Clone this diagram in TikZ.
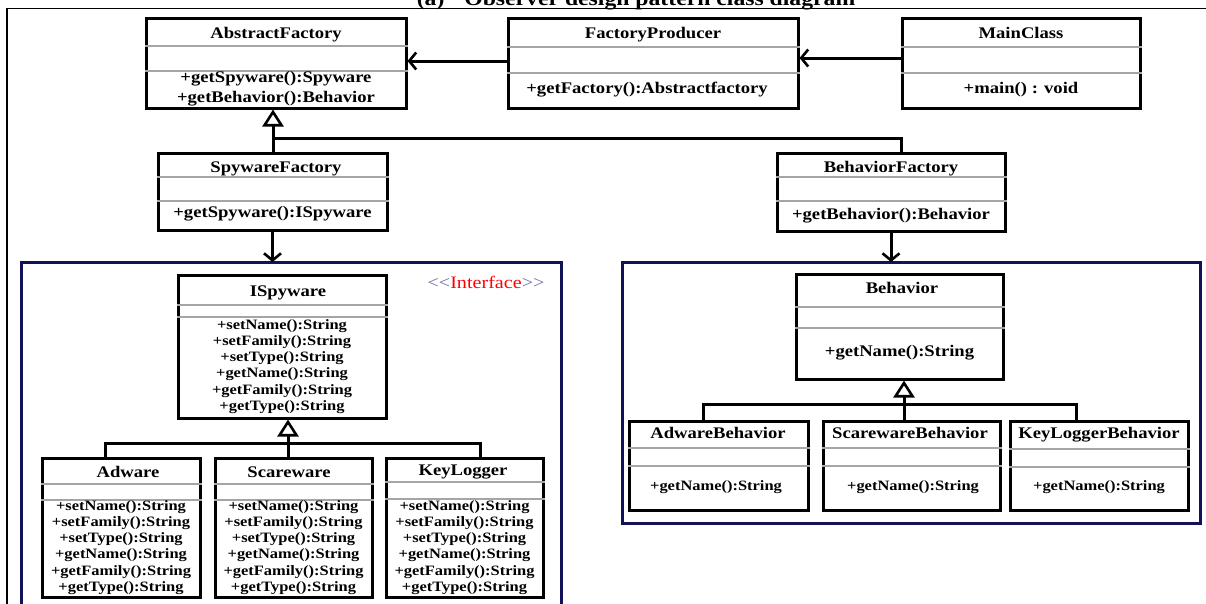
\documentclass[tikz,border=0pt]{standalone}
\usepackage{fontspec}
\setmainfont{Liberation Serif}[FakeStretch=1.15]
\usetikzlibrary{arrows.meta}
\definecolor{panecol}{RGB}{18,18,88}
\definecolor{sepcol}{RGB}{165,165,165}
\definecolor{tagcol}{RGB}{105,105,170}
\begin{document}
\begin{tikzpicture}[x=1pt,y=-1pt,
  cls/.style={draw=black, line width=3pt, fill=white, inner sep=0pt},
  sepline/.style={draw=sepcol, line width=1.3pt},
  nm/.style={font=\bfseries\fontsize{16.2}{18}\selectfont, inner sep=0pt, text height=11pt, text depth=3pt},
  mtbig/.style={font=\bfseries\fontsize{16.2}{20}\selectfont, inner sep=0pt, align=center},
  mtsmall/.style={font=\bfseries\fontsize{14.3}{16.2}\selectfont, inner sep=0pt, align=center},
  pane/.style={draw=panecol, line width=3pt},
  conn/.style={line width=3pt, line join=miter},
  assoc/.style={conn, -{Straight Barb[length=7pt,width=17pt,line width=2.6pt]}},
  inh/.style={conn, -{Triangle[length=17pt,width=21pt,fill=white,line width=2.6pt]}},
]
\useasboundingbox (0,0) rectangle (1206,603);
\clip (0,0) rectangle (1206,603);

% caption, cut by the top of the page
\node[font=\bfseries\fontsize{20.6}{24}\selectfont, inner sep=0pt, anchor=base] (caption) at (636,5)
  {(a)\hspace{20pt}Observer design pattern class diagram};
\draw[line width=1.8pt] (7,620) -- (7,8.5) -- (1215,8.5);

% ---------- top row ----------
\node[cls, minimum width=260pt, minimum height=90pt] (af) at (276,63) {};
\draw[sepline] (af.west |- 0,46) -- (af.east |- 0,46);
\draw[sepline] (af.west |- 0,71) -- (af.east |- 0,71);
\node[nm] (af-t) at (276,34) {AbstractFactory};
\node[mtbig] (af-m) at (276,89) {+getSpyware():Spyware\\+getBehavior():Behavior};

\node[cls, minimum width=290pt, minimum height=90pt] (fp) at (653,63) {};
\draw[sepline] (fp.west |- 0,47) -- (fp.east |- 0,47);
\draw[sepline] (fp.west |- 0,73) -- (fp.east |- 0,73);
\node[nm] (fp-t) at (653,34) {FactoryProducer};
\node[mtbig] (fp-m) at (647,90) {+getFactory():Abstractfactory};

\node[cls, minimum width=238pt, minimum height=90pt] (mc) at (1021,63) {};
\draw[sepline] (mc.west |- 0,47) -- (mc.east |- 0,47);
\draw[sepline] (mc.west |- 0,73) -- (mc.east |- 0,73);
\node[nm] (mc-t) at (1021,34) {MainClass};
\node[mtbig] (mc-m) at (1021,90) {+main() : void};

\draw[assoc] (fp.west |- 0,61) -- (af.east |- 0,61);
\draw[assoc] (mc.west |- 0,58) -- (fp.east |- 0,58);

% ---------- factories ----------
\node[cls, minimum width=229pt, minimum height=77pt] (sf) at (272.5,191.5) {};
\draw[sepline] (sf.west |- 0,177) -- (sf.east |- 0,177);
\draw[sepline] (sf.west |- 0,201) -- (sf.east |- 0,201);
\node[nm] (sf-t) at (276,168) {SpywareFactory};
\node[mtbig] (sf-m) at (272.5,214) {+getSpyware():ISpyware};

\node[cls, minimum width=228pt, minimum height=78pt] (bf) at (891,192) {};
\draw[sepline] (bf.west |- 0,177) -- (bf.east |- 0,177);
\draw[sepline] (bf.west |- 0,201) -- (bf.east |- 0,201);
\node[nm] (bf-t) at (891,168) {BehaviorFactory};
\node[mtbig] (bf-m) at (891,216) {+getBehavior():Behavior};

\coordinate (j1) at (273,138);
\coordinate (j2) at (901,138);
\draw[conn] (bf.north -| j2) -- (j2) -- (j1);
\draw[inh] (sf.north -| j1) -- (af.south -| j1);

% ---------- spyware pane ----------
\draw[pane] (21,262) rectangle (561,640);
\coordinate (lp) at (291,262);
\draw[assoc] (sf.south) -- (sf.south |- lp);
\node[font=\fontsize{17.5}{20}\selectfont, inner sep=0pt] (tag) at (486,282)
  {\textcolor{tagcol}{<\kern0pt<}\textcolor{red}{Interface}\textcolor{tagcol}{>\kern0pt>}};

\node[cls, minimum width=208pt, minimum height=143pt] (isp) at (282,346.5) {};
\draw[sepline] (isp.west |- 0,305) -- (isp.east |- 0,305);
\draw[sepline] (isp.west |- 0,317) -- (isp.east |- 0,317);
\node[nm] (isp-t) at (288,292) {ISpyware};
\node[mtsmall] (isp-m) at (282,366.5) {+setName():String\\+setFamily():String\\+setType():String\\+getName():String\\+getFamily():String\\+getType():String};

\node[cls, minimum width=158pt, minimum height=139pt] (ad) at (121,527.5) {};
\draw[sepline] (ad.west |- 0,484) -- (ad.east |- 0,484);
\draw[sepline] (ad.west |- 0,500) -- (ad.east |- 0,500);
\node[nm] (ad-t) at (128,473) {Adware};
\node[mtsmall] (ad-m) at (121,547.5) {+setName():String\\+setFamily():String\\+setType():String\\+getName():String\\+getFamily():String\\+getType():String};

\node[cls, minimum width=157pt, minimum height=139pt] (sc) at (293.5,527.5) {};
\draw[sepline] (sc.west |- 0,484) -- (sc.east |- 0,484);
\draw[sepline] (sc.west |- 0,500) -- (sc.east |- 0,500);
\node[nm] (sc-t) at (289,473) {Scareware};
\node[mtsmall] (sc-m) at (293.5,547.5) {+setName():String\\+setFamily():String\\+setType():String\\+getName():String\\+getFamily():String\\+getType():String};

\node[cls, minimum width=157pt, minimum height=139pt] (kl) at (464.5,527.5) {};
\draw[sepline] (kl.west |- 0,482) -- (kl.east |- 0,482);
\draw[sepline] (kl.west |- 0,499) -- (kl.east |- 0,499);
\node[nm] (kl-t) at (463,471) {KeyLogger};
\node[mtsmall] (kl-m) at (464.5,547.5) {+setName():String\\+setFamily():String\\+setType():String\\+getName():String\\+getFamily():String\\+getType():String};

\coordinate (j3) at (288,443);
\coordinate (ha) at (105,443);
\coordinate (hk) at (480,443);
\draw[conn] (ad.north -| ha) -- (ha) -- (hk) -- (kl.north -| hk);
\draw[inh] (sc.north -| j3) -- (isp.south -| j3);

% ---------- behavior pane ----------
\draw[pane] (622,262) rectangle (1200,523);
\coordinate (rp) at (911,262);
\draw[assoc] (bf.south) -- (bf.south |- rp);

\node[cls, minimum width=207pt, minimum height=105pt] (bh) at (899.5,326.5) {};
\draw[sepline] (bh.west |- 0,307) -- (bh.east |- 0,307);
\draw[sepline] (bh.west |- 0,328) -- (bh.east |- 0,328);
\node[nm] (bh-t) at (902,289) {Behavior};
\node[mtbig] (bh-m) at (899.5,353) {+getName():String};

\node[cls, minimum width=179pt, minimum height=89pt] (ab) at (718.5,465.5) {};
\draw[sepline] (ab.west |- 0,448) -- (ab.east |- 0,448);
\draw[sepline] (ab.west |- 0,466) -- (ab.east |- 0,466);
\node[nm] (ab-t) at (718,434) {AdwareBehavior};
\node[mtsmall] (ab-m) at (716,487) {+getName():String};

\node[cls, minimum width=177pt, minimum height=89pt] (sb) at (911.5,465.5) {};
\draw[sepline] (sb.west |- 0,448) -- (sb.east |- 0,448);
\draw[sepline] (sb.west |- 0,466) -- (sb.east |- 0,466);
\node[nm] (sb-t) at (910,434) {ScarewareBehavior};
\node[mtsmall] (sb-m) at (913,487) {+getName():String};

\node[cls, minimum width=178pt, minimum height=89pt] (kb) at (1099,465.5) {};
\draw[sepline] (kb.west |- 0,449) -- (kb.east |- 0,449);
\draw[sepline] (kb.west |- 0,467) -- (kb.east |- 0,467);
\node[nm] (kb-t) at (1099,434) {KeyLoggerBehavior};
\node[mtsmall] (kb-m) at (1099,487) {+getName():String};

\coordinate (j4) at (904,404);
\coordinate (hab) at (703,404);
\coordinate (hkb) at (1076,404);
\draw[conn] (ab.north -| hab) -- (hab) -- (hkb) -- (kb.north -| hkb);
\draw[inh] (sb.north -| j4) -- (bh.south -| j4);
\end{tikzpicture}
\end{document}
